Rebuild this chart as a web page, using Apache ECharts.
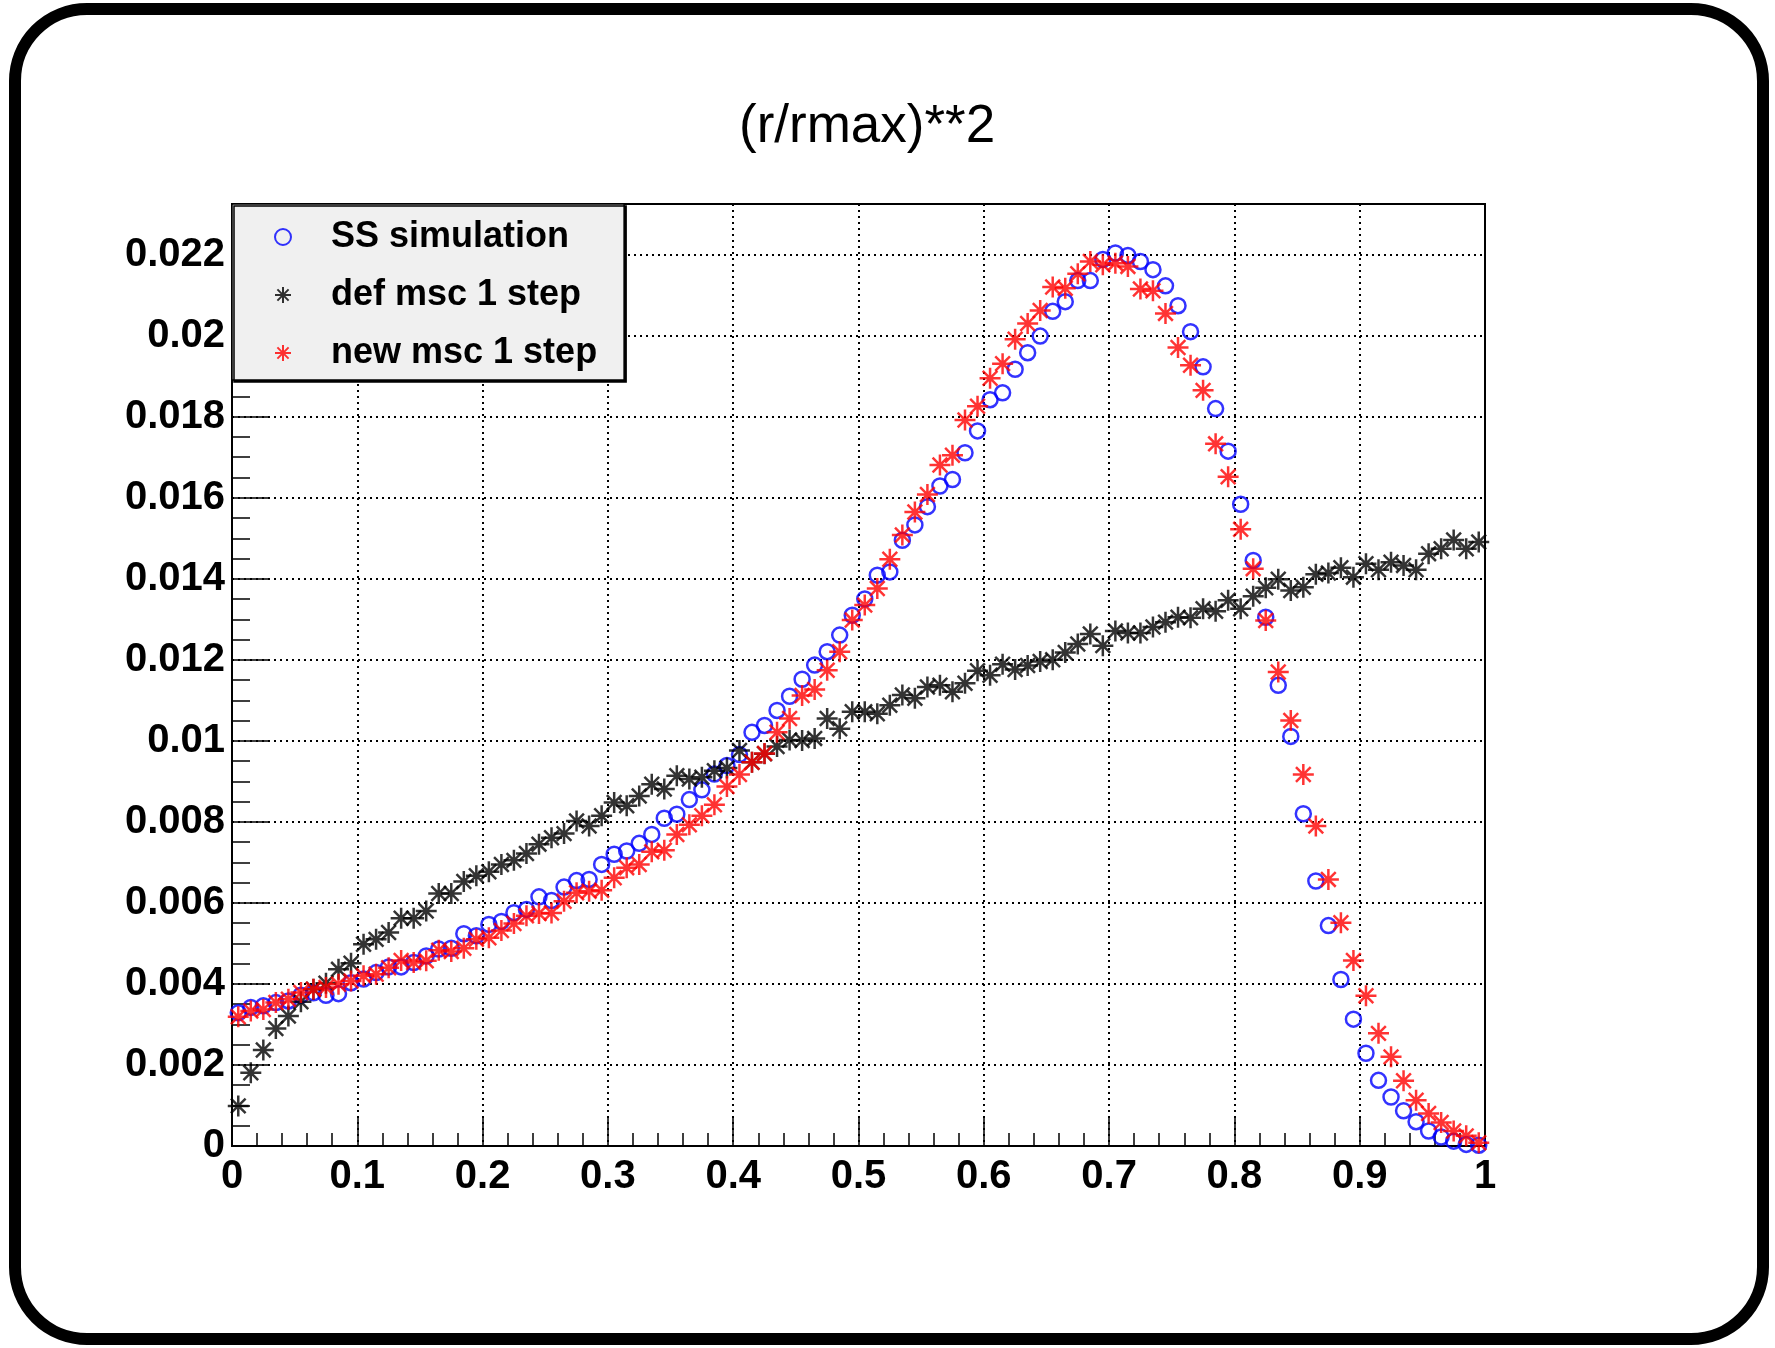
<!DOCTYPE html>
<html>
<head>
<meta charset="utf-8">
<script src="https://cdn.jsdelivr.net/npm/echarts@6/dist/echarts.min.js"></script>
<style>
html,body{margin:0;padding:0;background:#fff;}
#chart{width:1775px;height:1348px;}
</style>
</head>
<body>
<div id="chart"></div>
<script>
// Histogram bin centres: 100 bins of width 0.01 on [0,1]
const binCenters = Array.from({length: 100}, (_, i) => +(0.005 + 0.01 * i).toFixed(3));

const seriesNames = ['SS simulation', 'def msc 1 step', 'new msc 1 step'];

const ssSimulation = [
0.00329,0.00342,0.00346,0.00354,0.00358,0.00372,0.00378,0.00372,0.00376,0.00403,
0.00412,0.00428,0.00442,0.00442,0.00453,0.00469,0.00486,0.00488,0.00524,0.00519,
0.00547,0.00554,0.00576,0.00584,0.00615,0.00606,0.00639,0.00655,0.00658,0.00695,
0.00720,0.00728,0.00747,0.00769,0.00809,0.00819,0.00855,0.00879,0.00918,0.00939,
0.00966,0.01021,0.01038,0.01075,0.01110,0.01152,0.01187,0.01220,0.01261,0.01310,
0.01350,0.01409,0.01417,0.01495,0.01533,0.01578,0.01629,0.01645,0.01711,0.01765,
0.01842,0.01859,0.01917,0.01958,0.01999,0.02060,0.02084,0.02136,0.02136,0.02188,
0.02204,0.02198,0.02183,0.02163,0.02123,0.02074,0.02010,0.01923,0.01820,0.01715,
0.01584,0.01445,0.01305,0.01137,0.01011,0.00820,0.00654,0.00544,0.00411,0.00313,
0.00229,0.00162,0.00121,0.00087,0.00060,0.00037,0.00022,0.00012,0.00004,0.00002];

const defMsc = [
0.00099,0.00181,0.00237,0.00290,0.00321,0.00356,0.00387,0.00402,0.00436,0.00451,
0.00498,0.00510,0.00527,0.00562,0.00562,0.00580,0.00623,0.00623,0.00653,0.00667,
0.00677,0.00695,0.00705,0.00722,0.00745,0.00761,0.00771,0.00802,0.00790,0.00815,
0.00848,0.00840,0.00864,0.00893,0.00881,0.00914,0.00906,0.00910,0.00926,0.00933,
0.00976,0.00947,0.00968,0.00986,0.01002,0.01001,0.01006,0.01055,0.01030,0.01072,
0.01072,0.01067,0.01088,0.01113,0.01105,0.01133,0.01137,0.01121,0.01142,0.01173,
0.01162,0.01189,0.01176,0.01186,0.01196,0.01200,0.01218,0.01239,0.01264,0.01235,
0.01271,0.01266,0.01266,0.01281,0.01293,0.01305,0.01304,0.01326,0.01320,0.01347,
0.01326,0.01357,0.01378,0.01399,0.01371,0.01379,0.01411,0.01414,0.01427,0.01404,
0.01437,0.01422,0.01441,0.01433,0.01422,0.01462,0.01474,0.01496,0.01474,0.01491];

const newMsc = [
0.00319,0.00333,0.00337,0.00354,0.00362,0.00379,0.00387,0.00391,0.00399,0.00407,
0.00420,0.00424,0.00440,0.00458,0.00453,0.00457,0.00483,0.00480,0.00488,0.00510,
0.00514,0.00532,0.00549,0.00568,0.00574,0.00575,0.00604,0.00625,0.00629,0.00631,
0.00662,0.00687,0.00695,0.00726,0.00730,0.00769,0.00793,0.00815,0.00842,0.00887,
0.00917,0.00947,0.00969,0.01021,0.01055,0.01112,0.01127,0.01174,0.01220,0.01298,
0.01335,0.01376,0.01448,0.01508,0.01565,0.01608,0.01681,0.01705,0.01792,0.01826,
0.01895,0.01931,0.01991,0.02030,0.02062,0.02120,0.02117,0.02153,0.02183,0.02175,
0.02179,0.02171,0.02115,0.02111,0.02055,0.01971,0.01927,0.01865,0.01733,0.01652,
0.01522,0.01425,0.01297,0.01170,0.01050,0.00917,0.00790,0.00658,0.00551,0.00458,
0.00371,0.00278,0.00220,0.00161,0.00113,0.00080,0.00058,0.00037,0.00025,0.00008];

const titleText = '(r/rmax)**2';

const pair = (vals) => binCenters.map((x, i) => [x, vals[i]]);
const STAR = 'path://M10,0L10,20M0,10L20,10M3,3L17,17M3,17L17,3';
const FONT = '"Liberation Sans", Arial, Helvetica, sans-serif';

const chart = echarts.init(document.getElementById('chart'), null, {renderer: 'canvas'});
chart.setOption({
  backgroundColor: '#ffffff',
  animation: false,
  title: {
    text: titleText,
    left: 734, top: 96,
    textStyle: {fontFamily: FONT, fontWeight: 'normal', fontSize: 53, color: '#000'}
  },
  graphic: [{
    type: 'rect', silent: true, z: -1,
    shape: {x: 15, y: 9, width: 1748, height: 1330, r: 72},
    style: {fill: 'none', stroke: '#000', lineWidth: 12}
  }],
  legend: {
    orient: 'vertical',
    left: 232, top: 204,
    padding: [13, 27, 7, 42],
    itemGap: 18,
    itemWidth: 16, itemHeight: 16,
    backgroundColor: '#f0f0f0',
    borderColor: '#000', borderWidth: 1.5,
    shadowColor: '#000', shadowOffsetX: 2, shadowOffsetY: 2, shadowBlur: 0,
    textStyle: {fontFamily: FONT, fontWeight: 'bold', fontSize: 36, color: '#000', lineHeight: 40, padding: [0, 0, 0, 35]},
    data: seriesNames
  },
  grid: {
    left: 232, right: 290, top: 204, bottom: 202,
    show: true, borderColor: '#000', borderWidth: 2, backgroundColor: 'transparent'
  },
  xAxis: {
    type: 'value', min: 0, max: 1, interval: 0.1,
    axisLine: {show: true, onZero: false, lineStyle: {color: '#000', width: 2}},
    axisTick: {show: true, inside: true, length: 28, lineStyle: {color: '#000', width: 1.5}},
    minorTick: {show: true, splitNumber: 5, length: 13, lineStyle: {color: '#000', width: 1.5}},
    splitLine: {show: true, lineStyle: {color: '#000', width: 2, type: [2, 4]}},
    axisLabel: {
      margin: 11, fontFamily: FONT, fontWeight: 'bold', fontSize: 40, color: '#000',
      formatter: v => String(+v.toFixed(1))
    }
  },
  yAxis: {
    type: 'value', min: 0, max: 0.02325, interval: 0.002,
    axisLine: {show: true, onZero: false, lineStyle: {color: '#000', width: 2}},
    axisTick: {show: true, inside: true, length: 36, lineStyle: {color: '#000', width: 1.5}},
    minorTick: {show: true, splitNumber: 4, length: 18, lineStyle: {color: '#000', width: 1.5}},
    splitLine: {show: true, lineStyle: {color: '#000', width: 2, type: [2, 4]}},
    axisLabel: {
      margin: 7, showMaxLabel: false, fontFamily: FONT, fontWeight: 'bold', fontSize: 40, color: '#000',
      formatter: v => String(+v.toFixed(3))
    }
  },
  series: [
    {
      name: seriesNames[0], type: 'scatter', data: pair(ssSimulation),
      symbol: 'circle', symbolSize: 15, z: 3,
      itemStyle: {color: 'transparent', borderColor: '#0000ff', borderWidth: 2.5}
    },
    {
      name: seriesNames[1], type: 'scatter', data: pair(defMsc),
      symbol: STAR, symbolSize: 21, z: 4,
      itemStyle: {color: 'transparent', borderColor: '#000000', borderWidth: 2.5}
    },
    {
      name: seriesNames[2], type: 'scatter', data: pair(newMsc),
      symbol: STAR, symbolSize: 21, z: 5,
      itemStyle: {color: 'transparent', borderColor: '#ff0000', borderWidth: 2.5}
    }
  ]
});
</script>
</body>
</html>
